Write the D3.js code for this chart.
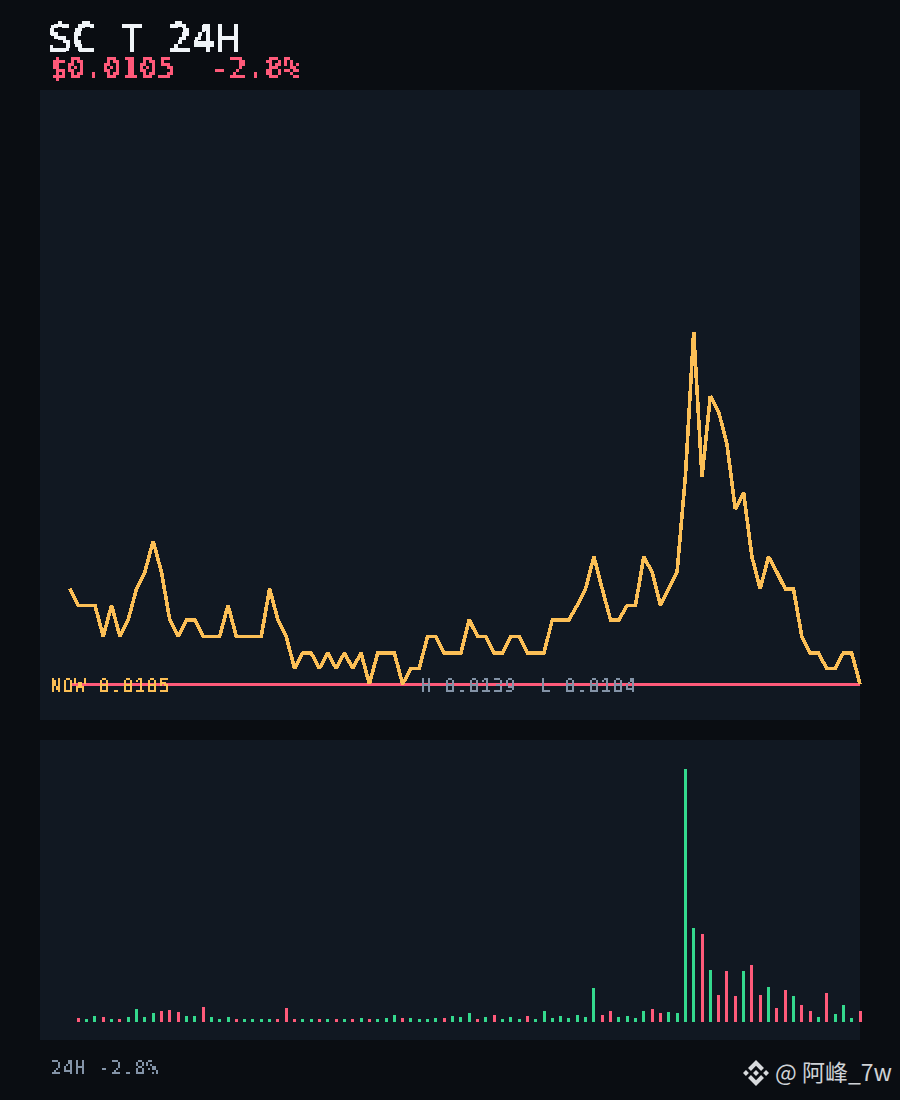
<!DOCTYPE html>
<html><head><meta charset="utf-8">
<script src="https://cdn.jsdelivr.net/npm/d3@7/dist/d3.min.js"></script>
<style>html,body{margin:0;padding:0;background:#0a0d12}svg{display:block}</style>
</head><body><svg id="c" width="900" height="1100"></svg>
<script>
const titleText="SC T 24H";
const priceText="$0.0105  -2.8%";
const nowText="NOW 0.0105";
const rangeText="H 0.0139  L 0.0104";
const footerText="24H -2.8%";
const watermarkText="@ 阿峰_7w";
const nowPrice=0.0105;
const highPrice=0.0139;
const prices=[0.01142,0.01126,0.01126,0.01126,0.01096,0.01126,0.01096,0.01112,0.01142,0.01158,0.01188,0.01158,0.01112,0.01096,0.01112,0.01112,0.01096,0.01096,0.01096,0.01126,0.01096,0.01096,0.01096,0.01096,0.01142,0.01112,0.01096,0.01065,0.0108,0.0108,0.01065,0.0108,0.01065,0.0108,0.01065,0.0108,0.0105,0.0108,0.0108,0.0108,0.0105,0.01065,0.01065,0.01096,0.01096,0.0108,0.0108,0.0108,0.01112,0.01096,0.01096,0.0108,0.0108,0.01096,0.01096,0.0108,0.0108,0.0108,0.01112,0.01112,0.01112,0.01126,0.01142,0.01173,0.01142,0.01112,0.01112,0.01126,0.01126,0.01173,0.01158,0.01126,0.01142,0.01158,0.0125,0.0139,0.0125,0.01328,0.01313,0.01282,0.01219,0.01235,0.01173,0.01142,0.01173,0.01158,0.01142,0.01142,0.01096,0.0108,0.0108,0.01065,0.01065,0.0108,0.0108,0.0105];
const volumes=[0,4,3,6,5,3,3,5,13,5,9,11,12,10,6,6,15,5,3,5,3,3,3,3,3,3,14,3,3,3,3,3,3,3,3,4,3,3,4,7,4,4,3,3,4,4,6,5,9,3,5,7,3,5,3,6,3,11,4,6,4,7,5,34,7,11,5,6,4,11,13,9,10,9,253,94,88,52,27,51,26,51,57,27,35,14,32,26,17,11,5,29,8,17,4,11];
const volumeUp=[1,0,1,1,0,1,0,1,1,1,1,0,0,0,1,1,0,1,1,1,0,1,1,1,1,0,0,0,1,1,0,1,0,1,0,1,0,1,1,1,0,1,1,1,1,0,1,1,1,0,1,0,1,1,1,0,1,1,1,1,1,1,1,1,0,0,1,1,1,1,0,0,1,1,1,1,0,1,0,0,0,1,0,0,1,0,0,1,0,0,1,0,1,1,1,0];

const BG="#0a0d12",PANEL="#111822",YEL="#fcbf56",RED="#ff5a7a",GRN="#34d98e",GRAY="#8494a8",WHITE="#f0f4f8";
const svg=d3.select("#c");
const defs=svg.append("defs");

function pixFilter(id,x0,y0,w,h,cell){
  const f=defs.append("filter").attr("id",id).attr("filterUnits","userSpaceOnUse")
    .attr("primitiveUnits","userSpaceOnUse")
    .attr("x",x0).attr("y",y0).attr("width",w).attr("height",h)
    .attr("color-interpolation-filters","sRGB");
  const dot=cell===4?2:1, off=cell===4?1:(cell===3?1:0);
  f.append("feFlood").attr("x",x0+off).attr("y",y0+off).attr("width",dot).attr("height",dot).attr("flood-color","#000");
  f.append("feComposite").attr("x",x0).attr("y",y0).attr("width",cell).attr("height",cell);
  f.append("feTile").attr("x",x0).attr("y",y0).attr("width",w).attr("height",h).attr("result","grid");
  f.append("feComposite").attr("in","SourceGraphic").attr("in2","grid").attr("operator","in");
  f.append("feComponentTransfer").attr("result","s")
    .append("feFuncA").attr("type","discrete").attr("tableValues","0 1");
  if(cell===2){
    f.append("feOffset").attr("in","s").attr("dx",1).attr("dy",0).attr("result","a");
    f.append("feOffset").attr("in","s").attr("dx",0).attr("dy",1).attr("result","b");
    f.append("feOffset").attr("in","s").attr("dx",1).attr("dy",1).attr("result","c");
    const mm=f.append("feMerge");
    ["s","a","b","c"].forEach(n=>mm.append("feMergeNode").attr("in",n));
  } else {
    f.append("feMorphology").attr("operator","dilate").attr("radius",1);
  }
}

svg.append("rect").attr("width",900).attr("height",1100).attr("fill",BG);
svg.append("rect").attr("x",40).attr("y",90).attr("width",820).attr("height",630).attr("fill",PANEL);
svg.append("rect").attr("x",40).attr("y",740).attr("width",820).attr("height",300).attr("fill",PANEL);

const x=d3.scaleLinear().domain([0,prices.length-1]).range([70,860]);
const y=d3.scaleLinear().domain([nowPrice,highPrice]).range([684,332]);
const yv=d3.scaleLinear().domain([0,d3.max(volumes)]).range([1022,769]);

svg.append("line").attr("x1",x(0)).attr("x2",x(prices.length-1)).attr("y1",y(nowPrice)).attr("y2",y(nowPrice))
  .attr("stroke",RED).attr("stroke-width",3).attr("shape-rendering","crispEdges");
svg.append("path").datum(prices).attr("fill","none").attr("stroke",YEL).attr("stroke-width",3.6)
  .attr("stroke-linejoin","miter").attr("stroke-miterlimit",2).attr("shape-rendering","crispEdges")
  .attr("d",d3.line().x((d,i)=>x(i)).y(d=>y(d)));

svg.append("g").selectAll("rect").data(volumes).join("rect")
  .attr("x",(d,i)=>Math.round(x(i)-1.5)).attr("width",3)
  .attr("y",d=>yv(d)).attr("height",d=>yv(0)-yv(d))
  .attr("fill",(d,i)=>volumeUp[i]?GRN:RED).attr("shape-rendering","crispEdges");

const MONO="'DejaVu Sans Mono',monospace";
let fid=0;
function T(s,left,baseline,cell,fill,sw,dx){
  const id="pix"+(fid++);
  const adv=cell*6;
  pixFilter(id,left-cell*2,baseline-cell*9,adv*s.length+cell*4,cell*11,cell);
  const xs=Array.from(s,(c,i)=>left+i*adv+cell*2.5+dx);
  svg.append("text").attr("x",xs.join(" ")).attr("y",baseline)
    .attr("text-anchor","middle")
    .attr("font-family",MONO).attr("font-size",cell*7/0.729)
    .attr("fill",fill).attr("stroke",fill).attr("stroke-width",sw)
    .attr("filter",`url(#${id})`).style("white-space","pre").text(s);
}
T(titleText,50,52,4,WHITE,0.32,0);
T(priceText,50,78,3,RED,0.7,0.5);
T(nowText,50,692,2,YEL,0.1,0.5);
T(rangeText,420,692,2,GRAY,0.1,0.5);
T(footerText,50,1074,2,GRAY,0.1,0.5);

const logo=svg.append("g").attr("transform","translate(743,1060) scale(0.8125)").attr("fill","#d8dadd");
["M9.79 13.44L16 7.23l6.21 6.21 3.61-3.61L16 0 6.18 9.83z","M0 16l3.61-3.61L7.23 16l-3.62 3.61z","M9.79 18.56L16 24.77l6.21-6.21 3.62 3.61L16 32 6.18 22.17z","M24.77 16l3.62-3.61L32 16l-3.61 3.61z","M19.66 16L16 12.34 12.35 16 16 19.66z"]
 .forEach(p=>logo.append("path").attr("d",p));
svg.append("text").attr("x",775).attr("y",1081).attr("font-family","'Noto Sans CJK SC','Noto Sans',sans-serif")
  .attr("font-size",23).attr("fill","#cfd2d6").text(watermarkText);
</script></body></html>
